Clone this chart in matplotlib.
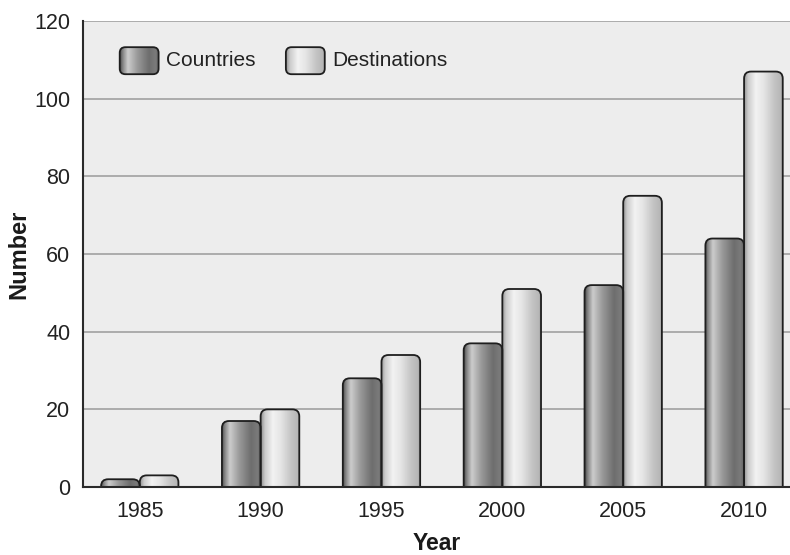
import numpy as np
import matplotlib
matplotlib.use('Agg')
import matplotlib.pyplot as plt
from matplotlib.path import Path
from matplotlib.patches import PathPatch

plt.rcParams['font.family'] = ['Liberation Sans', 'DejaVu Sans']

# ------------------ data ------------------
years = ['1985', '1990', '1995', '2000', '2005', '2010']
countries = [2, 17, 28, 37, 52, 64]
destinations = [3, 20, 34, 51, 75, 107]
series_names = ['Countries', 'Destinations']

# gradient stops (position across bar, grey level)
dark_stops = [(0.0, 0.33), (0.08, 0.55), (0.2, 0.80), (0.45, 0.60), (0.75, 0.43), (0.92, 0.48), (1.0, 0.40)]
light_stops = [(0.0, 0.58), (0.1, 0.80), (0.3, 0.95), (0.5, 0.90), (0.8, 0.76), (0.95, 0.72), (1.0, 0.64)]


def gradient(stops, n=64):
    pos = [s[0] for s in stops]
    val = [s[1] for s in stops]
    g = np.interp(np.linspace(0, 1, n), pos, val)
    return np.dstack([g, g, g]).reshape(1, n, 3)


def rounded_bar(ax, x0, w, h, stops, rx=0.058, ry=1.8):
    x1 = x0 + w
    ry = min(ry, h)
    verts = [(x0, 0), (x0, h - ry), (x0, h), (x0 + rx, h), (x1 - rx, h),
             (x1, h), (x1, h - ry), (x1, 0), (x0, 0)]
    codes = [Path.MOVETO, Path.LINETO, Path.CURVE3, Path.CURVE3, Path.LINETO,
             Path.CURVE3, Path.CURVE3, Path.LINETO, Path.CLOSEPOLY]
    patch = PathPatch(Path(verts, codes), facecolor='none', edgecolor='#1e1e1e', lw=1.3, zorder=4)
    ax.add_patch(patch)
    im = ax.imshow(gradient(stops), extent=[x0, x1, 0, h], aspect='auto',
                   interpolation='bilinear', zorder=3)
    im.set_clip_path(patch)


fig = plt.figure(figsize=(7.9, 5.55), dpi=100)
ax = fig.add_axes([0.105, 0.1225, 0.895, 0.8395])
ax.set_facecolor('#ededed')

x = np.arange(len(years))
bw = 0.32
for i in range(len(years)):
    rounded_bar(ax, x[i] - bw, bw, countries[i], dark_stops)
    rounded_bar(ax, x[i], bw, destinations[i], light_stops)

ax.set_yticks(range(0, 121, 20))
ax.set_xticks(x)
ax.set_xticklabels(years)
for yv in range(20, 121, 20):
    ax.axhline(yv, color='#9a9a9a', lw=1.1, zorder=1)

for s in ['top', 'right']:
    ax.spines[s].set_visible(False)
for s in ['left', 'bottom']:
    ax.spines[s].set_color('#2a2a2a')
    ax.spines[s].set_linewidth(1.5)
    ax.spines[s].set_zorder(5)
ax.tick_params(axis='y', length=0, pad=9, labelsize=15.5, labelcolor='#222222')
ax.tick_params(axis='x', length=0, pad=10, labelsize=15.5, labelcolor='#222222')
ax.set_ylabel('Number', fontsize=17, fontweight='bold', labelpad=3, color='#1a1a1a')
ax.set_xlabel('Year', fontsize=16.5, fontweight='bold', labelpad=7, color='#1a1a1a')

# ------------------ legend (drawn by hand for the gradient swatches) ------------------
def legend_swatch(x0, y0, w, h, stops, label):
    r = 0.008
    q = r * 1.52
    verts = [(x0, y0 + q), (x0, y0 + h - q), (x0, y0 + h), (x0 + r, y0 + h),
             (x0 + w - r, y0 + h), (x0 + w, y0 + h), (x0 + w, y0 + h - q),
             (x0 + w, y0 + q), (x0 + w, y0), (x0 + w - r, y0),
             (x0 + r, y0), (x0, y0), (x0, y0 + q)]
    codes = [Path.MOVETO, Path.LINETO, Path.CURVE3, Path.CURVE3, Path.LINETO,
             Path.CURVE3, Path.CURVE3, Path.LINETO, Path.CURVE3, Path.CURVE3,
             Path.LINETO, Path.CURVE3, Path.CURVE3]
    p = PathPatch(Path(verts, codes), facecolor='none', edgecolor='#1e1e1e', lw=1.3,
                  transform=ax.transAxes, zorder=6)
    ax.add_patch(p)
    im = ax.imshow(gradient(stops), extent=[x0, x0 + w, y0, y0 + h], aspect='auto',
                   interpolation='bilinear', transform=ax.transAxes, zorder=5)
    im.set_clip_path(p)
    ax.text(x0 + w + 0.01, y0 + h / 2, label, transform=ax.transAxes, fontsize=15,
            va='center', ha='left', color='#222222', zorder=6)


legend_swatch(0.052, 0.886, 0.055, 0.058, dark_stops, series_names[0])
legend_swatch(0.287, 0.886, 0.055, 0.058, light_stops, series_names[1])

ax.set_xlim(-0.47, 5.38)
ax.set_ylim(0, 120)

fig.savefig('out.png', dpi=100)
